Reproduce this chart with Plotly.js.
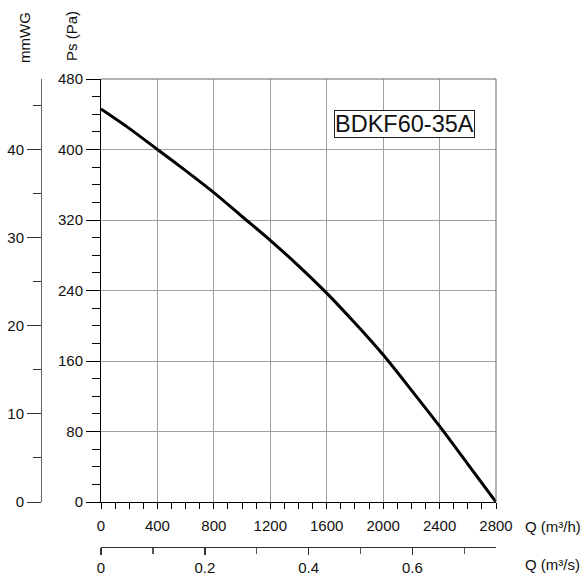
<!DOCTYPE html>
<html>
<head>
<meta charset="utf-8">
<script src="https://cdn.plot.ly/plotly-3.0.1.min.js"></script>
<style>html,body{margin:0;padding:0;background:#fff;}#chart{width:584px;height:576px;}</style>
</head>
<body>
<div id="chart"></div>
<script>
// Data
const flowM3h = [0, 200, 400, 600, 800, 1000, 1200, 1400, 1600, 1800, 2000, 2200, 2400, 2600, 2800];
const pressurePa = [446, 424, 400, 376, 351, 324, 297, 268, 237, 203, 167, 127, 86, 43, 0];
const modelName = 'BDKF60-35A';
// Secondary-axis scales as drawn in the reference
const PA_PER_MMWG = 10;
const M3H_PER_M3S = 3679;
const qMax = 2800;
const psMax = 480;

const W = 584, H = 576;
const mL = 20, mR = 88, mT = 79, mB = 10;
const pw = W - mL - mR, ph = H - mT - mB;
const px = v => (v - mL) / pw;          // pixel -> paper x
const py = v => (H - mB - v) / ph;      // pixel -> paper y

const font = {family: 'Liberation Sans, Arial, sans-serif', size: 15, color: '#111'};

const traces = [
  {x: flowM3h, y: pressurePa, type: 'scatter', mode: 'lines',
   line: {color: '#000', width: 3, shape: 'spline', smoothing: 0.8},
   xaxis: 'x', yaxis: 'y', hoverinfo: 'skip', showlegend: false},
  {x: [], y: [], type: 'scatter', mode: 'lines', xaxis: 'x2', yaxis: 'y2',
   hoverinfo: 'skip', showlegend: false}
];

const xDom = [px(101), 1];
const yDom = [py(502), 1];

const layout = {
  width: W, height: H,
  margin: {l: mL, r: mR, t: mT, b: mB, pad: 0},
  paper_bgcolor: '#fff', plot_bgcolor: '#fff',
  font: font,
  showlegend: false,
  xaxis: {
    domain: xDom, anchor: 'y', range: [0, qMax], dtick: 400, tick0: 0,
    showgrid: true, gridcolor: '#a0a0a0', gridwidth: 1,
    zeroline: false, showline: true, linecolor: '#000', linewidth: 1,
    ticks: 'outside', ticklen: 6, tickcolor: '#000', tickwidth: 1,
    ticklabelstandoff: 4,
    minor: {dtick: 100, ticks: 'outside', ticklen: 6, tickcolor: '#000', showgrid: false},
    tickfont: font, fixedrange: true
  },
  yaxis: {
    domain: yDom, anchor: 'x', range: [0, psMax], dtick: 80, tick0: 0,
    showgrid: true, gridcolor: '#a0a0a0', gridwidth: 1,
    zeroline: false, showline: true, linecolor: '#000', linewidth: 1,
    ticks: 'outside', ticklen: 14, tickcolor: '#000', tickwidth: 1,
    minor: {dtick: 20, ticks: 'outside', ticklen: 8, tickcolor: '#000', showgrid: false},
    tickfont: font, fixedrange: true
  },
  xaxis2: {
    domain: xDom, overlaying: 'x', anchor: 'free', position: py(547), side: 'bottom',
    range: [0, qMax / M3H_PER_M3S], dtick: 0.2, tick0: 0,
    showgrid: false, zeroline: false, showline: true, linecolor: '#333', linewidth: 1,
    ticks: 'outside', ticklen: 7, tickcolor: '#333', tickwidth: 1.5,
    minor: {dtick: 0.1, ticks: 'outside', ticklen: 6, tickcolor: '#555', showgrid: false},
    tickfont: font, fixedrange: true
  },
  yaxis2: {
    domain: yDom, overlaying: 'y', anchor: 'free', position: px(41), side: 'left',
    range: [0, psMax / PA_PER_MMWG], dtick: 10, tick0: 0,
    showgrid: false, zeroline: false, showline: true, linecolor: '#666', linewidth: 1,
    ticks: 'outside', ticklen: 14, tickcolor: '#333', tickwidth: 1,
    minor: {dtick: 5, ticks: 'outside', ticklen: 8, tickcolor: '#333', showgrid: false},
    tickfont: font, fixedrange: true
  },
  shapes: [
    {type: 'line', xref: 'x domain', yref: 'y domain', x0: 0, x1: 1, y0: 1, y1: 1,
     line: {color: '#666', width: 1}},
    {type: 'line', xref: 'x domain', yref: 'y domain', x0: 1, x1: 1, y0: 0, y1: 1,
     line: {color: '#666', width: 1}}
  ],
  annotations: [
    {text: 'Q (m³/h)', xref: 'paper', yref: 'paper', x: px(523), y: py(526),
     xanchor: 'left', yanchor: 'middle', showarrow: false, font: font},
    {text: 'Q (m³/s)', xref: 'paper', yref: 'paper', x: px(523), y: py(564),
     xanchor: 'left', yanchor: 'middle', showarrow: false, font: font},
    {text: 'mmWG', xref: 'paper', yref: 'paper', x: px(25), y: py(38),
     xanchor: 'center', yanchor: 'middle', textangle: -90, showarrow: false, font: font},
    {text: 'Ps (Pa)', xref: 'paper', yref: 'paper', x: px(72), y: py(36),
     xanchor: 'center', yanchor: 'middle', textangle: -90, showarrow: false, font: font},
    {text: modelName, xref: 'paper', yref: 'paper', x: px(404.5), y: py(124.5),
     xanchor: 'center', yanchor: 'middle', showarrow: false,
     font: {family: 'Liberation Sans, Arial, sans-serif', size: 23.5, color: '#111'},
     bgcolor: '#fff', bordercolor: '#222', borderwidth: 1, borderpad: 0}
  ]
};

Plotly.newPlot('chart', traces, layout, {staticPlot: true, displayModeBar: false});
</script>
</body>
</html>
